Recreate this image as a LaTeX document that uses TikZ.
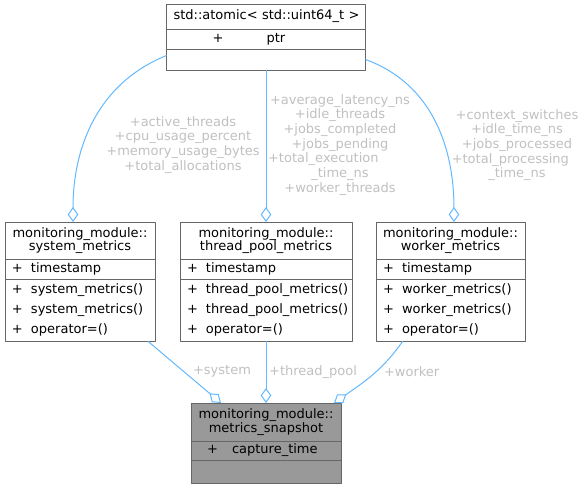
\documentclass[tikz,border=0pt]{standalone}
\usepackage{fontspec}
\setmainfont{DejaVu Sans}
\usetikzlibrary{positioning,arrows.meta}
\definecolor{edgeblue}{HTML}{63B8FF}
\definecolor{boxgrey}{HTML}{666666}
\definecolor{labelgrey}{HTML}{C0C0C0}
\definecolor{snapfill}{HTML}{999999}
\newcommand{\mrow}[2][14.25pt]{\makebox[#1][l]{+}#2}

\begin{document}
\begin{tikzpicture}[x=0.75pt, y=-0.75pt, line join=round, font=\fontsize{9.75}{10}\selectfont]
	\tikzset{cls/.style={draw=boxgrey, line width=0.75pt, fill=white, inner xsep=5.25pt, inner ysep=0pt, outer sep=0pt, align=center},
		part/.style={cls, align=left, font=\fontsize{9.75}{15}\selectfont},
		agg/.style={draw=edgeblue, line width=0.75pt, -{Diamond[open, fill=white, length=11.25pt, width=8pt]}},
		lbl/.style={text=labelgrey, align=center, inner sep=0pt, font=\fontsize{9.75}{11}\selectfont}}
	\useasboundingbox (0,0) rectangle (588,489);

	% std::atomic on top
	\node[cls, anchor=north, text width=138.75pt, minimum height=18.75pt] (atomt) at (266,4) {\mbox{std::atomic< std::uint64\_t >}};
	\node[part, below=0pt of atomt, text width=138.75pt, minimum height=15pt] (atoma) {\hspace*{29.25pt}\mrow[40.5pt]{ptr}};
	\node[part, below=0pt of atoma, text width=138.75pt, minimum height=15.75pt] (atomm) {};

	% the three metrics structs
	\foreach \n/\x/\w/\t in {sys/80/102pt/system, thr/266/118.5pt/thread\_pool, wrk/450.5/101.25pt/worker}{
		\node[cls, anchor=north, text width=\w, minimum height=28pt] (\n t) at (\x,222) {monitoring\_module::\\\t\_metrics};
		\node[part, below=0pt of \n t, text width=\w, minimum height=15pt] (\n a) {\mrow{timestamp}};
		\node[part, below=0pt of \n a, text width=\w, minimum height=46.5pt] (\n m) {\mrow{\t\_metrics()}\\\mrow{\t\_metrics()}\\\mrow{operator=()}};
	}

	% metrics_snapshot
	\node[cls, fill=snapfill, anchor=north, text width=102pt, minimum height=28.5pt] (snapt) at (266,403) {monitoring\_module::\\metrics\_snapshot};
	\node[part, fill=snapfill, below=0pt of snapt, text width=102pt, minimum height=14.25pt] (snapa) {\hspace*{6.75pt}\mrow[18.75pt]{capture\_time}};
	\node[part, fill=snapfill, below=0pt of snapa, text width=102pt, minimum height=17.25pt] (snapm) {};

	\draw[agg] ([yshift=3pt]atomm.west) to[out=202, in=90] ([xshift=-5.25pt]syst.north);
	\draw[agg] (atomm.south -| thrt.north) -- (thrt.north);
	\draw[agg] (atomm.east) to[out=-20, in=90] ([xshift=2.6pt]wrkt.north);
	\draw[agg] ([xshift=-5.25pt]sysm.south east) -- ([xshift=22.5pt]snapt.north west);
	\draw[agg] (thrm.south) -- (snapt.north);
	\draw[agg] ([xshift=20pt]wrkm.south west) to[out=235, in=35] ([xshift=-5.25pt]snapt.north east);

	\node[lbl] (lsys) at (183,144.7) {+active\_threads\\+cpu\_usage\_percent\\+memory\_usage\_bytes\\+total\_allocations};
	\node[lbl] (lthr) at (340,144.7) {+average\_latency\_ns\\+idle\_threads\\+jobs\_completed\\+jobs\_pending\\+total\_execution\makebox[25pt]{}\\\_time\_ns\\+worker\_threads};
	\node[lbl] (lwrk) at (517,145) {+context\_switches\\+idle\_time\_ns\\+jobs\_processed\\+total\_processing\makebox[10pt]{}\\\_time\_ns};
	\node[lbl] (lsnapsys) at (222,371.7) {+system};
	\node[lbl] (lsnapthr) at (313,371.7) {+thread\_pool};
	\node[lbl] (lsnapwrk) at (411.7,371.7) {+worker};
\end{tikzpicture}
\end{document}
